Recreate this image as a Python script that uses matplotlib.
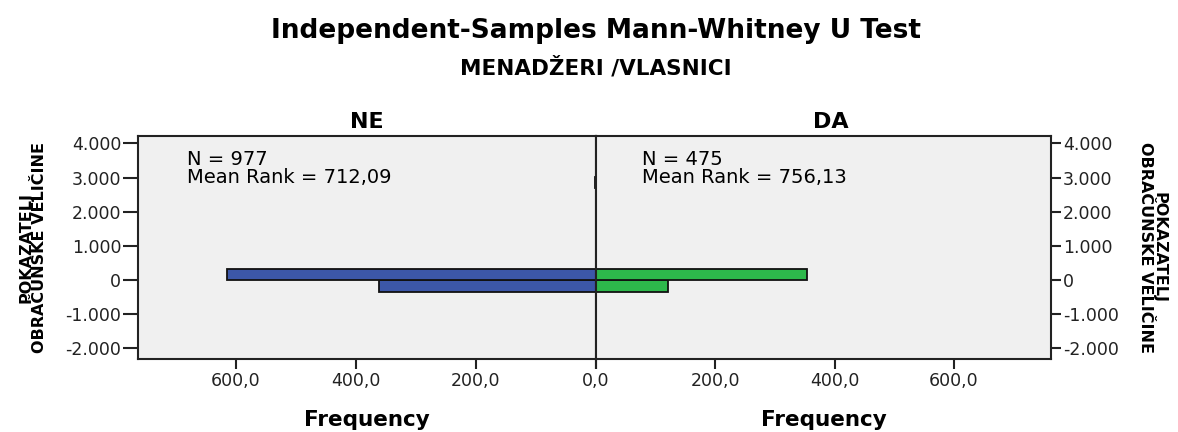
import numpy as np
import matplotlib.pyplot as plt

# bins of the score (lower edge) and frequencies per group
bin_width = 335
bin_lower = [-335, 0, 2680]
ne_freq = [361, 614, 2]
da_freq = [121, 354, 0]

ne_n = "N = 977"
ne_rank = "Mean Rank = 712,09"
da_n = "N = 475"
da_rank = "Mean Rank = 756,13"

y_ticks = [-2000, -1000, 0, 1000, 2000, 3000, 4000]
y_tick_labels = ["-2.000", "-1.000", "0", "1.000", "2.000", "3.000", "4.000"]
x_ticks = [0, 200, 400, 600]
x_tick_labels = ["0,0", "200,0", "400,0", "600,0"]

W, H = 1178, 432
plt.rcParams['font.family'] = ['DejaVu Sans']

fig = plt.figure(figsize=(W / 100, H / 100), dpi=100)


def box(x0, y0, x1, y1):
    # pixel box (top-left origin) -> figure fraction rect
    return [x0 / W, 1 - y1 / H, (x1 - x0) / W, (y1 - y0) / H]


axL = fig.add_axes(box(138, 136, 596, 359))
axR = fig.add_axes(box(596, 136, 1051, 359))

centers = np.array(bin_lower) + bin_width / 2
axL.barh(centers, ne_freq, height=bin_width, color="#3C57A8", edgecolor="#111111", linewidth=1.3)
axR.barh(centers, da_freq, height=bin_width, color="#2DB84B", edgecolor="#111111", linewidth=1.3)

for ax in (axL, axR):
    ax.set_facecolor("#F0F0F0")
    ax.set_ylim(-2310, 4215)
    ax.set_yticks(y_ticks)
    ax.set_yticklabels(y_tick_labels)
    ax.set_xticks(x_ticks)
    for s in ax.spines.values():
        s.set_linewidth(1.5)
        s.set_color("#222222")
    ax.tick_params(axis="x", length=7.5, width=1.5, pad=2, labelsize=12.5, colors="#222222")
    ax.set_xlabel("Frequency", fontsize=15.5, fontweight="bold", labelpad=14)

axL.set_xticklabels(x_tick_labels)
# the shared 0,0 is written once, under the left panel
axR.set_xticklabels([""] + x_tick_labels[1:])

axL.set_xlim(763, 0)
axR.set_xlim(0, 763)
axL.tick_params(axis="y", length=11, width=1.5, pad=1, labelsize=12.5, colors="#222222")
axR.yaxis.tick_right()
axR.tick_params(axis="y", length=7.5, width=1.5, pad=1, labelsize=12.5, colors="#222222")

ylab = "POKAZATELJ\nOBRAČUNSKE VELIČINE"
axL.set_ylabel(ylab, fontsize=11.5, fontweight="bold", linespacing=0.9, labelpad=13)
axR.yaxis.set_label_position("right")
axR.set_ylabel(ylab, fontsize=11.5, fontweight="bold", linespacing=0.9,
               rotation=-90, va="bottom", labelpad=14)

axL.set_title("NE", fontsize=16, fontweight="bold", pad=6)
axR.set_title("DA", fontsize=16, fontweight="bold", pad=6, x=0.515)

axL.text(0.108, 0.935, ne_n, transform=axL.transAxes, fontsize=14, va="top")
axL.text(0.108, 0.855, ne_rank, transform=axL.transAxes, fontsize=14, va="top")
axR.text(0.10, 0.935, da_n, transform=axR.transAxes, fontsize=14, va="top")
axR.text(0.10, 0.855, da_rank, transform=axR.transAxes, fontsize=14, va="top")

fig.text(596 / W, 1 - 31 / H, "Independent-Samples Mann-Whitney U Test",
         fontsize=19, fontweight="bold", ha="center", va="center")
fig.text(596 / W, 1 - 68 / H, "MENADŽERI /VLASNICI",
         fontsize=15.5, fontweight="bold", ha="center", va="center")

fig.savefig("out.png", dpi=100, facecolor="white")
